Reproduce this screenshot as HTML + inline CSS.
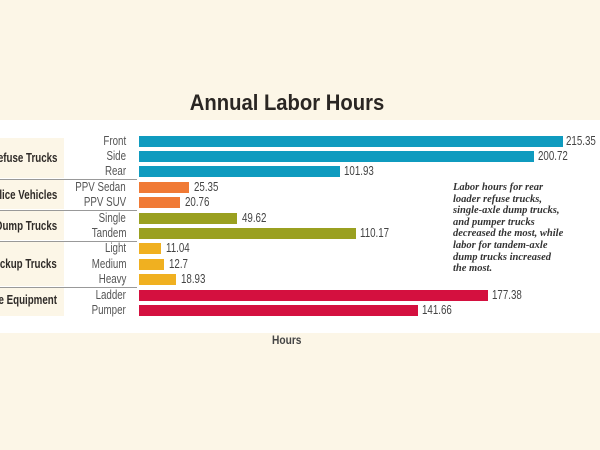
<!DOCTYPE html>
<html><head><meta charset="utf-8"><style>
body{margin:0;width:600px;height:450px;background:#fcf6e7;position:relative;overflow:hidden;font-family:"Liberation Sans",sans-serif}
.panel{position:absolute;left:0;top:120px;width:600px;height:213px;background:#fff}
.t{position:absolute;white-space:nowrap}
.title{left:287px;top:90px;font-size:22px;font-weight:bold;color:#2a2623;transform:translateX(-50%) scaleX(0.92)}
.box{position:absolute;left:0;width:64px;background:#fcf6e7}
.g{position:absolute;right:543px;font-size:12.5px;font-weight:bold;color:#2f2b28;white-space:nowrap;transform:scaleX(0.78);transform-origin:right center}
.c{position:absolute;right:474px;font-size:12.5px;color:#555;white-space:nowrap;transform:scaleX(0.78);transform-origin:right center}
.bar{position:absolute;left:139px;height:11px}
.v{position:absolute;font-size:12.5px;color:#444;white-space:nowrap;transform:scaleX(0.78);transform-origin:left center}
.sep{position:absolute;left:0;width:137px;height:1px;background:#999}
.note{left:453px;top:182px;font-family:"Liberation Serif",serif;font-style:italic;font-weight:bold;font-size:10.5px;line-height:11.6px;color:#333}
</style></head><body>
<div class="panel"></div>
<div class="t title">Annual Labor Hours</div>
<div class="box" style="top:138px;height:40px"></div>
<div class="box" style="top:180px;height:29px"></div>
<div class="box" style="top:211px;height:29px"></div>
<div class="box" style="top:242px;height:44px"></div>
<div class="box" style="top:288px;height:28px"></div>
<div class="sep" style="top:179px"></div>
<div class="sep" style="top:210px"></div>
<div class="sep" style="top:241px"></div>
<div class="sep" style="top:287px"></div>
<div class="g" style="top:151px">Refuse Trucks</div>
<div class="g" style="top:188px">Police Vehicles</div>
<div class="g" style="top:219px">Dump Trucks</div>
<div class="g" style="top:257px">Pickup Trucks</div>
<div class="g" style="top:293px">Fire Equipment</div>

<div class="c" style="top:134px">Front</div>
<div class="c" style="top:149px">Side</div>
<div class="c" style="top:164px">Rear</div>
<div class="c" style="top:180px">PPV Sedan</div>
<div class="c" style="top:195px">PPV SUV</div>
<div class="c" style="top:211px">Single</div>
<div class="c" style="top:226px">Tandem</div>
<div class="c" style="top:241px">Light</div>
<div class="c" style="top:257px">Medium</div>
<div class="c" style="top:272px">Heavy</div>
<div class="c" style="top:288px">Ladder</div>
<div class="c" style="top:303px">Pumper</div>

<div class="bar" style="top:136px;width:424px;background:#0f9bbf"></div><div class="v" style="left:566px;top:134px">215.35</div>
<div class="bar" style="top:151px;width:395px;background:#0f9bbf"></div><div class="v" style="left:538px;top:149px">200.72</div>
<div class="bar" style="top:166px;width:201px;background:#0f9bbf"></div><div class="v" style="left:344px;top:164px">101.93</div>
<div class="bar" style="top:182px;width:50px;background:#f07a35"></div><div class="v" style="left:194px;top:180px">25.35</div>
<div class="bar" style="top:197px;width:41px;background:#f07a35"></div><div class="v" style="left:185px;top:195px">20.76</div>
<div class="bar" style="top:213px;width:98px;background:#9aa020"></div><div class="v" style="left:242px;top:211px">49.62</div>
<div class="bar" style="top:228px;width:217px;background:#9aa020"></div><div class="v" style="left:360px;top:226px">110.17</div>
<div class="bar" style="top:243px;width:22px;background:#f0b020"></div><div class="v" style="left:166px;top:241px">11.04</div>
<div class="bar" style="top:259px;width:25px;background:#f0b020"></div><div class="v" style="left:169px;top:257px">12.7</div>
<div class="bar" style="top:274px;width:37px;background:#f0b020"></div><div class="v" style="left:181px;top:272px">18.93</div>
<div class="bar" style="top:290px;width:349px;background:#d4103f"></div><div class="v" style="left:492px;top:288px">177.38</div>
<div class="bar" style="top:305px;width:279px;background:#d4103f"></div><div class="v" style="left:422px;top:303px">141.66</div>

<div class="t note">Labor hours for rear<br>loader refuse trucks,<br>single-axle dump trucks,<br>and pumper trucks<br>decreased the most, while<br>labor for tandem-axle<br>dump trucks increased<br>the most.</div>
<div class="t" style="left:272px;top:333px;font-size:12px;font-weight:bold;color:#444;transform:scaleX(0.85);transform-origin:left center">Hours</div>
</body></html>
